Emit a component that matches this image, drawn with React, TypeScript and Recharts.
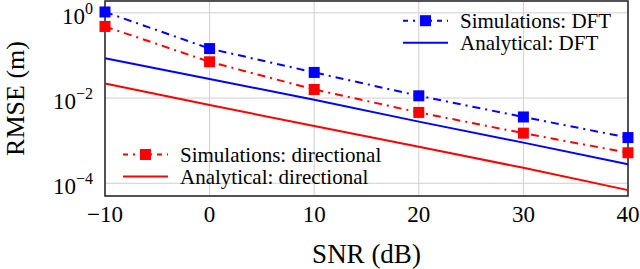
import React from "react";
import {
  LineChart,
  Line,
  XAxis,
  YAxis,
  CartesianGrid,
  ReferenceArea,
} from "recharts";

// SNR values (dB) on the x axis
const snr = [-10, 0, 10, 20, 30, 40];

// RMSE (m)
const simDft = [1.05, 0.145, 0.04, 0.0113, 0.0036, 0.00118];
const anaDft = [0.086, 0.028, 0.0091, 0.0028, 0.0009, 0.00028];
const simDir = [0.48, 0.071, 0.0159, 0.0046, 0.0015, 0.00052];
const anaDir = [0.022, 0.0069, 0.0022, 0.00072, 0.00023, 0.000069];

const xTicks = [-10, 0, 10, 20, 30, 40];
const yTicks = [1e-4, 1e-2, 1];
const yDomain = [5.02e-5, 1.9];

const FONT = "Liberation Serif, Times New Roman, DejaVu Serif, serif";
const BLUE = "#0000ff";
const RED = "#ff0000";
const DASH_DOT = "8 5 2 5";

const txtStyle = (size: number): React.CSSProperties => ({
  fontFamily: FONT,
  fontSize: size,
  fill: "#000",
});

const data = snr.map((s, i) => ({
  snr: s,
  simDft: simDft[i],
  anaDft: anaDft[i],
  simDir: simDir[i],
  anaDir: anaDir[i],
}));

const squareDot = (color: string) => (props: any) => {
  const { cx, cy, key } = props;
  if (cx == null || cy == null) return <g key={key} />;
  return (
    <rect key={key} x={cx - 5.5} y={cy - 5.5} width={11} height={11} fill={color} stroke="none" />
  );
};

const XTick = (props: any) => {
  const { x, y, payload } = props;
  const v = payload.value;
  const txt = v < 0 ? "\u2212" + Math.abs(v) : String(v);
  return (
    <text x={x} y={y + 26} textAnchor="middle" style={txtStyle(23)}>
      {txt}
    </text>
  );
};

const YTick = (props: any) => {
  const { x, y, payload } = props;
  const exp = Math.round(Math.log10(payload.value));
  const sup = exp < 0 ? "\u2212" + Math.abs(exp) : String(exp);
  return (
    <text x={x} y={y + 11} textAnchor="end" style={txtStyle(23)}>
      <tspan>10</tspan>
      <tspan dy={-10} style={{ fontSize: 16 }}>
        {sup}
      </tspan>
    </text>
  );
};

const YLabel = (props: any) => {
  const { viewBox } = props;
  const cx = viewBox.x + 24;
  const cy = viewBox.y + viewBox.height / 2;
  return (
    <text
      x={cx}
      y={cy}
      transform={`rotate(-90 ${cx} ${cy})`}
      textAnchor="middle"
      style={txtStyle(26)}
    >
      RMSE (m)
    </text>
  );
};

// legend rows: label, colour, with marker or not
const legendDft = [
  { label: "Simulations: DFT", color: BLUE, sim: true },
  { label: "Analytical: DFT", color: BLUE, sim: false },
];
const legendDir = [
  { label: "Simulations: directional", color: RED, sim: true },
  { label: "Analytical: directional", color: RED, sim: false },
];

const LegendBlock = ({ items, x, y }: { items: typeof legendDft; x: number; y: number }) => (
  <g transform={`translate(${x},${y})`}>
    {items.map((it, i) => (
      <g key={it.label} transform={`translate(0,${i * 22})`}>
        <line
          x1={0}
          x2={45}
          y1={0}
          y2={0}
          stroke={it.color}
          strokeWidth={2}
          strokeDasharray={it.sim ? "5 5 2 5" : undefined}
        />
        {it.sim && <rect x={17} y={-5.5} width={11} height={11} fill={it.color} />}
        <text x={57} y={7.5} style={txtStyle(21)}>
          {it.label}
        </text>
      </g>
    ))}
  </g>
);

const App: React.FC = () => {
  return (
    <div style={{ position: "fixed", left: 0, top: 0, width: 640, height: 269, background: "#fff" }}>
      <LineChart
        width={640}
        height={269}
        data={data}
        margin={{ top: 1, right: 12, bottom: 0, left: 0 }}
      >
        <CartesianGrid stroke="#cfcfcf" strokeWidth={1} />
        <XAxis
          dataKey="snr"
          type="number"
          domain={[-10, 40]}
          ticks={xTicks}
          height={73}
          tickSize={0}
          tickMargin={0}
          axisLine={false}
          tickLine={false}
          tick={<XTick />}
          label={{
            value: "SNR (dB)",
            position: "insideBottom",
            offset: 6,
            style: txtStyle(27),
          }}
        />
        <YAxis
          type="number"
          scale="log"
          domain={yDomain}
          ticks={yTicks}
          width={105}
          tickSize={0}
          tickMargin={12}
          axisLine={false}
          tickLine={false}
          tick={<YTick />}
          label={YLabel}
        />
        <Line
          dataKey="anaDir"
          stroke={RED}
          strokeWidth={2}
          dot={false}
          isAnimationActive={false}
        />
        <Line
          dataKey="anaDft"
          stroke={BLUE}
          strokeWidth={2}
          dot={false}
          isAnimationActive={false}
        />
        <Line
          dataKey="simDir"
          stroke={RED}
          strokeWidth={2}
          strokeDasharray={DASH_DOT}
          dot={squareDot(RED)}
          isAnimationActive={false}
        />
        <Line
          dataKey="simDft"
          stroke={BLUE}
          strokeWidth={2}
          strokeDasharray={DASH_DOT}
          dot={squareDot(BLUE)}
          isAnimationActive={false}
        />
        <ReferenceArea
          x1={-10}
          x2={40}
          y1={yDomain[0]}
          y2={yDomain[1]}
          fill="none"
          fillOpacity={0}
          stroke="#222"
          strokeWidth={1.5}
        />
      </LineChart>
      <svg
        width={640}
        height={269}
        style={{ position: "absolute", left: 0, top: 0, pointerEvents: "none" }}
      >
        <LegendBlock items={legendDft} x={403} y={20.7} />
        <LegendBlock items={legendDir} x={123} y={154.5} />
      </svg>
    </div>
  );
};

export default App;
